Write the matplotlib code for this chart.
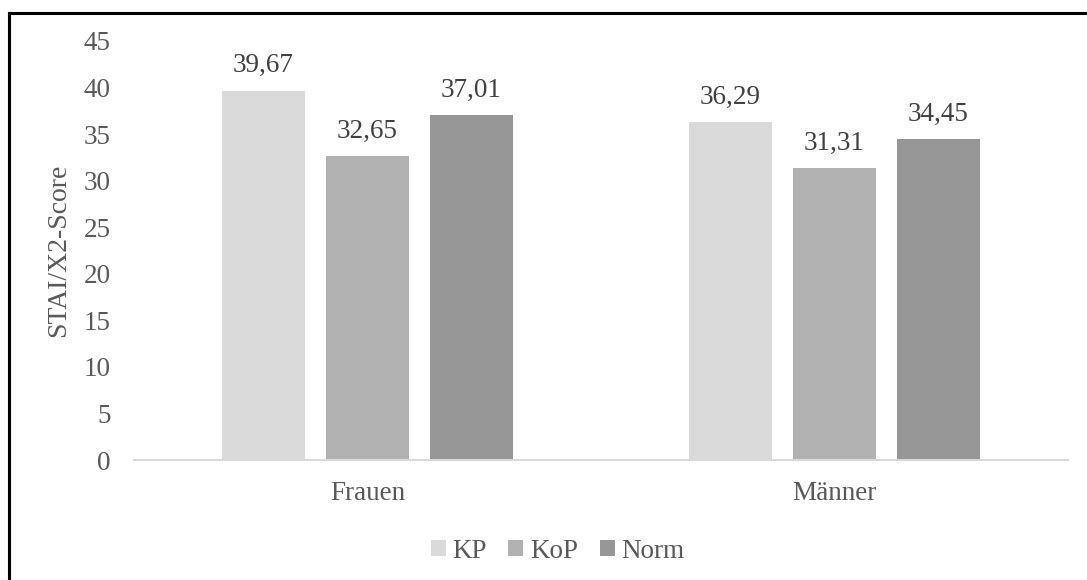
import numpy as np
from matplotlib import pyplot as plt
from matplotlib.lines import Line2D

# values
groups = ["Frauen", "Männer"]
series = ["KP", "KoP", "Norm"]
kp = [39.67, 36.29]
kop = [32.65, 31.31]
norm = [37.01, 34.45]
y_ticks = [0, 5, 10, 15, 20, 25, 30, 35, 40, 45]

colors = ["#dadada", "#b1b1b1", "#969696"]
text_gray = "#595959"
label_gray = "#404040"

plt.rcParams['font.family'] = ['Liberation Serif', 'DejaVu Serif']

fig = plt.figure(figsize=(10.87, 5.80), dpi=100)
ax = fig.add_axes([134/1087, 120/580, 934/1087, 419/580])

x = np.arange(len(groups))
width = 0.176
offset = 0.2227
for i, (name, vals) in enumerate(zip(series, [kp, kop, norm])):
    bars = ax.bar(x + (i - 1) * offset, vals, width, color=colors[i], label=name, zorder=2)
    labels = [f"{v:.2f}".replace(".", ",") for v in vals]
    ax.bar_label(bars, labels=labels, padding=9, fontsize=19.5, color=label_gray)

ax.set_xlim(-0.5, 1.5)
ax.set_ylim(0, 45)
ax.set_yticks(y_ticks)
ax.set_xticks(x)
ax.set_xticklabels(groups)
ax.tick_params(axis='y', length=0, pad=17, labelsize=19.5, labelcolor=text_gray)
ax.tick_params(axis='x', length=0, pad=15, labelsize=19.5, labelcolor=text_gray)
ax.set_ylabel("STAI/X2-Score", fontsize=20, color=text_gray, labelpad=9)

for side in ['top', 'right', 'left']:
    ax.spines[side].set_visible(False)
ax.spines['bottom'].set_color("#d9d9d9")
ax.spines['bottom'].set_linewidth(1.5)

fig.legend(loc='center', bbox_to_anchor=(0.513, 0.05), ncol=3, frameon=False,
           fontsize=19.5, labelcolor=text_gray, handlelength=0.55, handleheight=0.55,
           handletextpad=0.25, columnspacing=0.8)

# chart frame (only top and left edges are visible in the reference)
fig.add_artist(Line2D([8.5/1087, 1], [1 - 13/580, 1 - 13/580], color='black', linewidth=2.2))
fig.add_artist(Line2D([8.5/1087, 8.5/1087], [0, 1 - 13/580], color='black', linewidth=2.2))

fig.savefig("out.png", dpi=100)
